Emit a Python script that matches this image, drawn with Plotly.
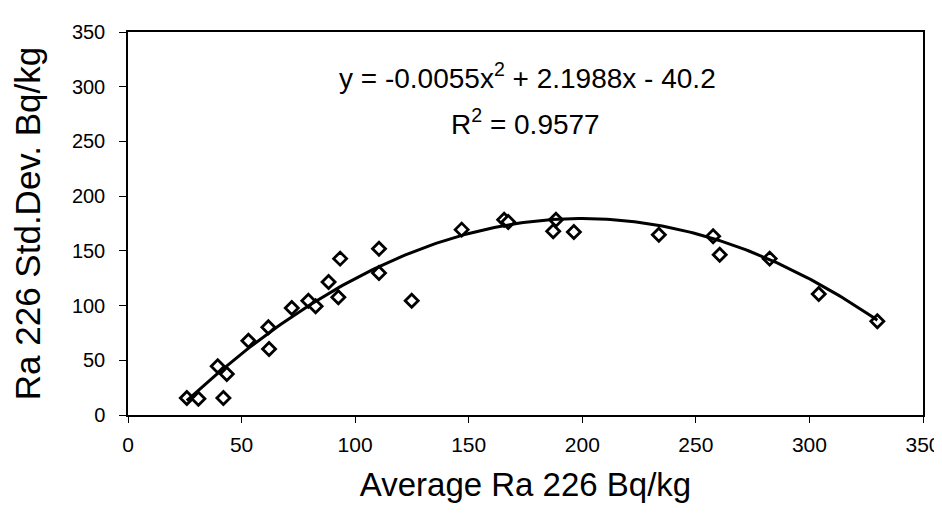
import plotly.graph_objects as go
import numpy as np

# Data
avg_ra226 = [25.9, 31.0, 42.0, 39.5, 43.5, 53.0, 61.8, 62.1, 72.1, 79.4,
             82.6, 88.3, 92.6, 93.4, 110.5, 110.5, 124.9, 146.9, 165.6, 167.4,
             188.4, 187.2, 196.3, 233.7, 257.6, 260.5, 282.5, 304.1, 329.9]
std_ra226 = [15.6, 14.9, 15.6, 44.5, 37.5, 67.9, 80.2, 60.3, 97.8, 104.5,
             99.4, 121.6, 107.6, 142.9, 152.0, 129.8, 104.5, 169.4, 178.5, 176.4,
             178.5, 167.9, 167.3, 164.8, 163.3, 146.5, 142.9, 110.6, 85.6]

# Trendline coefficients as displayed on the chart (a*x^2 + b*x + c)
trend_coef = [-0.0055, 2.1988, -40.2]
eq_text = "y = -0.0055x<sup>2</sup> + 2.1988x - 40.2"
r2_text = "R<sup>2</sup> = 0.9577"

x_ticks = [0, 50, 100, 150, 200, 250, 300, 350]
y_ticks = [0, 50, 100, 150, 200, 250, 300, 350]

xt = np.linspace(min(avg_ra226), max(avg_ra226), 200)
yt = np.polyval(trend_coef, xt)

FONT = "Arial, Liberation Sans, sans-serif"

fig = go.Figure()
fig.add_trace(go.Scatter(
    x=avg_ra226, y=std_ra226, mode="markers",
    marker=dict(symbol="diamond", size=10, color="white",
                line=dict(color="black", width=2.8)),
    showlegend=False,
))
fig.add_trace(go.Scatter(
    x=xt, y=yt, mode="lines",
    line=dict(color="black", width=3),
    showlegend=False,
))

fig.add_annotation(x=176, y=310, xref="x", yref="y", text=eq_text,
                   showarrow=False, font=dict(family=FONT, size=28, color="black"),
                   xanchor="center", yanchor="middle")
fig.add_annotation(x=175, y=268, xref="x", yref="y", text=r2_text,
                   showarrow=False, font=dict(family=FONT, size=28, color="black"),
                   xanchor="center", yanchor="middle")

fig.update_layout(
    width=942, height=525,
    margin=dict(l=120, r=27, t=24, b=118),
    paper_bgcolor="white", plot_bgcolor="white",
    font=dict(family=FONT, color="black"),
)
fig.update_xaxes(
    range=[0, 350], tickvals=x_ticks, ticktext=[str(v) for v in x_ticks],
    showgrid=False, zeroline=False, automargin=False,
    showline=True, linecolor="black", linewidth=1.5, mirror=True,
    ticks="outside", ticklen=6, tickcolor="black",
    tickfont=dict(family=FONT, size=21, color="black"),
    ticklabelstandoff=4,
    title=dict(text="Average Ra 226 Bq/kg", font=dict(family=FONT, size=33, color="black"),
               standoff=18),
)
fig.update_yaxes(
    range=[0, 350], tickvals=y_ticks, ticktext=[str(v) for v in y_ticks],
    showgrid=False, zeroline=False, automargin=False,
    showline=True, linecolor="black", linewidth=1.5, mirror=True,
    ticks="outside", ticklen=7, tickcolor="black",
    tickfont=dict(family=FONT, size=20, color="black"),
    ticklabelstandoff=10,
    title=dict(text="Ra 226 Std.Dev. Bq/kg", font=dict(family=FONT, size=35, color="black"),
               standoff=37),
)

fig.write_html("out.html")
